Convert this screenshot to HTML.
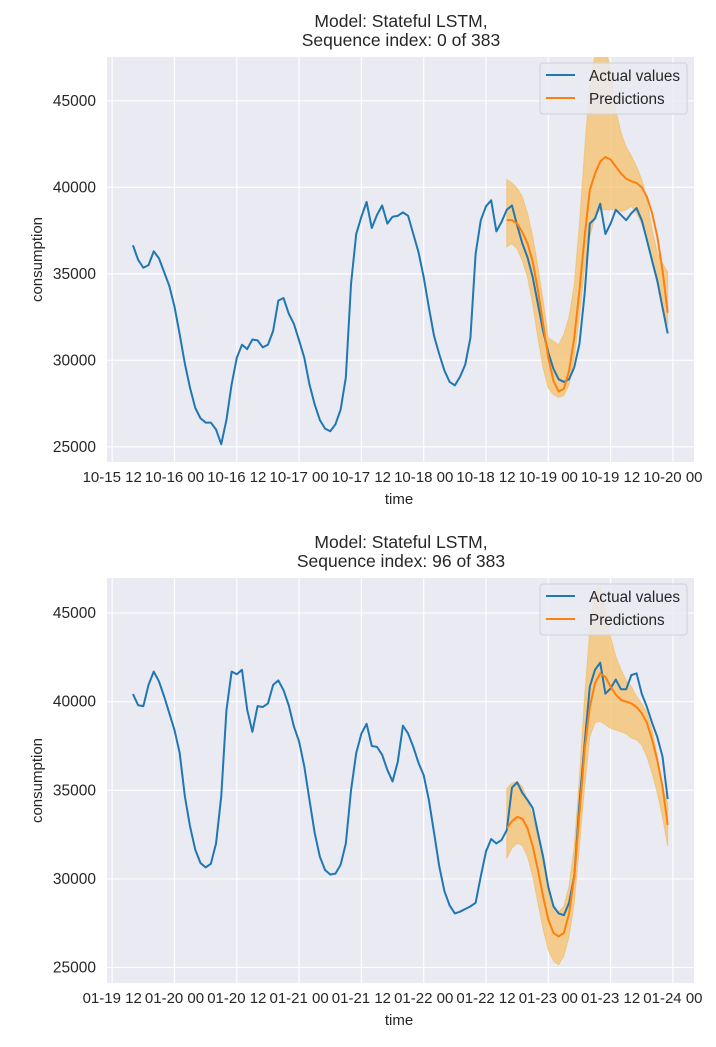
<!DOCTYPE html>
<html><head><meta charset="utf-8"><style>
body{margin:0;background:#fff;}
svg text{font-family:"Liberation Sans","DejaVu Sans",sans-serif;fill:#262626;}
</style></head><body>
<svg id="svg" width="716" height="1042" xmlns="http://www.w3.org/2000/svg"></svg>
<script>
const hours = Array.from({length:104},(_,i)=>i+4);
const predStartHour = 76;
const tickLabelsTop = ["10-15 12","10-16 00","10-16 12","10-17 00","10-17 12","10-18 00","10-18 12","10-19 00","10-19 12","10-20 00"];
const tickLabelsBot = ["01-19 12","01-20 00","01-20 12","01-21 00","01-21 12","01-22 00","01-22 12","01-23 00","01-23 12","01-24 00"];
const yTicks = [25000,30000,35000,40000,45000];
const actualTop = [36650,35800,35350,35500,36300,35900,35100,34300,33100,31500,29800,28400,27250,26650,26400,26400,26000,25150,26550,28600,30150,30900,30650,31200,31150,30750,30900,31700,33450,33600,32700,32100,31150,30150,28600,27450,26550,26050,25900,26300,27150,29000,34400,37300,38300,39150,37650,38400,38950,37900,38300,38350,38550,38350,37300,36250,34800,33050,31400,30350,29400,28750,28550,29050,29750,31300,36150,38100,38900,39250,37450,38000,38700,38950,37800,36750,35950,34800,33250,31700,30450,29500,28900,28750,28900,29600,30950,33850,37900,38200,39050,37300,37900,38700,38400,38100,38500,38800,38100,36950,35750,34600,33050,31550];
const predTop = [38100,38100,37900,37400,36750,35700,34050,32100,30150,28800,28200,28350,29400,31300,34050,37150,39850,40800,41500,41750,41600,41200,40800,40500,40350,40250,40000,39450,38500,37150,35200,32750];
const upperTop = [40450,40250,39950,39450,38500,37150,35400,33450,31300,31100,30900,31500,32500,34400,37900,42150,46050,47600,48000,48000,46800,44500,43150,42350,41800,41200,40450,39300,37550,36200,35600,35100];
const lowerTop = [36550,36750,36450,35750,34800,33250,31300,29550,28400,28000,27850,27950,28600,30150,32500,35400,37150,38300,38700,38700,38700,38700,38600,38700,38900,38500,37900,36950,35600,34400,33250,32000];
const actualBot = [40430,39800,39750,40950,41700,41150,40300,39350,38400,37100,34650,32950,31650,30900,30650,30850,32000,34650,39500,41700,41550,41800,39550,38300,39750,39700,39900,40950,41200,40650,39800,38600,37750,36350,34450,32600,31250,30500,30250,30300,30800,32000,35000,37100,38200,38750,37500,37450,37000,36150,35500,36600,38650,38200,37450,36550,35850,34450,32600,30700,29300,28500,28050,28150,28300,28450,28650,30150,31550,32250,32000,32200,32750,35150,35450,34850,34450,34000,32600,31250,29550,28450,28050,27950,28650,30150,34250,37650,40850,41800,42200,40450,40750,41250,40700,40700,41500,41600,40450,39700,38800,38000,36900,34500];
const predBot = [32850,33250,33500,33400,32850,31850,30500,29000,27700,26950,26750,26950,28050,30150,33700,37300,39700,41050,41600,41400,40850,40400,40100,40000,39900,39700,39350,38800,37850,36700,35200,33050];
const upperBot = [35100,35400,35500,35200,34450,33500,32400,30900,29400,28450,28150,28450,29600,31850,35750,40300,44050,46300,46500,45150,43650,42550,41800,41200,40850,40300,39900,39350,38400,36900,35200,34250];
const lowerBot = [31150,31750,32000,31900,31250,30150,28650,27150,26000,25350,25150,25650,26750,28650,31850,35200,38050,38800,38900,38700,38500,38400,38300,38200,37950,37850,37550,36900,35950,34850,33500,31850];

const NS="http://www.w3.org/2000/svg";
const svg=document.getElementById('svg');
function mk(tag,attrs,parent){const e=document.createElementNS(NS,tag);for(const k in attrs)e.setAttribute(k,attrs[k]);(parent||svg).appendChild(e);return e;}

function drawPanel(idx,top,bottom,y40,pxPer5k,title2,labels,actual,pred,upper,lower){
  const L=107,R=694;
  const g=mk('g',{});
  
  
  const xS=h=>112.2+h*62.3/12;
  const yS=v=>y40-(v-40000)/5000*pxPer5k;
  const cid='clip'+idx;
  const cp=mk('clipPath',{id:cid},g);mk('rect',{x:L,y:top,width:R-L,height:bottom-top},cp);
  const bg=mk('rect',{x:L,y:top,width:R-L,height:bottom-top,fill:'#eaeaf2'},g);
  
  
  labels.forEach((t,i)=>{const x=xS(i*12);
    const gl=mk('line',{x1:x,x2:x,y1:top,y2:bottom,stroke:'#fff','stroke-width':1.1},g);
    
    
    const tl=mk('text',{x:x,y:bottom+20,'text-anchor':'middle','font-size':15},g);tl.textContent=t;
    
    
  });
  yTicks.forEach(v=>{const y=yS(v);
    const gl=mk('line',{x1:L,x2:R,y1:y,y2:y,stroke:'#fff','stroke-width':1.1},g);
    
    
    const tl=mk('text',{x:L-11,y:y+5,'text-anchor':'end','font-size':15.5},g);tl.textContent=v;
    
    
  });
  const ph=pred.map((_,i)=>predStartHour+i);
  let d='M'+ph.map((h,i)=>xS(h)+','+yS(upper[i])).join('L')+'L'+ph.slice().reverse().map((h,j)=>xS(h)+','+yS(lower[lower.length-1-j])).join('L')+'Z';
  const band=mk('path',{d:d,fill:'#f5c26b','fill-opacity':0.75,stroke:'#f0b44a','stroke-opacity':0.5,'clip-path':'url(#'+cid+')'},g);
  
  
  const al=mk('polyline',{points:hours.map((h,i)=>xS(h)+','+yS(actual[i])).join(' '),fill:'none',stroke:'#1f77b4','stroke-width':2,'stroke-linejoin':'round','clip-path':'url(#'+cid+')'},g);
  
  
  const pl=mk('polyline',{points:ph.map((h,i)=>xS(h)+','+yS(pred[i])).join(' '),fill:'none',stroke:'#ff7f0e','stroke-width':2,'stroke-linejoin':'round','clip-path':'url(#'+cid+')'},g);
  
  
  const lg=mk('g',{},g);
  
  
  mk('rect',{x:540,y:top+6,width:147,height:51,rx:3,fill:'#eaeaf2','fill-opacity':0.85,stroke:'#d0d0d8'},lg);
  mk('line',{x1:546,x2:575,y1:top+18,y2:top+18,stroke:'#1f77b4','stroke-width':2},lg);
  mk('line',{x1:546,x2:575,y1:top+41,y2:top+41,stroke:'#ff7f0e','stroke-width':2},lg);
  const t1=mk('text',{x:589,y:top+24,'font-size':15.3},lg);t1.textContent='Actual values';
  
  
  const t2=mk('text',{x:589,y:top+47,'font-size':15.3},lg);t2.textContent='Predictions';
  
  
  const ti1=mk('text',{x:401,y:top-30,'text-anchor':'middle','font-size':17.5},g);ti1.textContent='Model: Stateful LSTM,';
  
  
  const ti2=mk('text',{x:401,y:top-11,'text-anchor':'middle','font-size':17.5},g);ti2.textContent=title2;
  
  
  const xl=mk('text',{x:399,y:bottom+42,'text-anchor':'middle','font-size':15},g);xl.textContent='time';
  
  
  const cy=(top+bottom)/2;
  const yl=mk('text',{x:42,y:cy,'text-anchor':'middle','font-size':15,transform:'rotate(-90 42 '+cy+')'},g);yl.textContent='consumption';
  
  
}
drawPanel(0,57,462,187.3,86.5,'Sequence index: 0 of 383',tickLabelsTop,actualTop,predTop,upperTop,lowerTop);
drawPanel(1,578,983,701.7,88.6,'Sequence index: 96 of 383',tickLabelsBot,actualBot,predBot,upperBot,lowerBot);
</script>
</body></html>
